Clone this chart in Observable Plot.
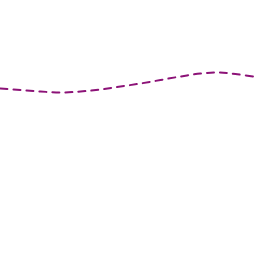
<!DOCTYPE html>
<html>
<head>
<meta charset="utf-8">
<script src="https://cdn.jsdelivr.net/npm/d3@7"></script>
<script src="https://cdn.jsdelivr.net/npm/@observablehq/plot@0.6"></script>
<style>
html, body { margin: 0; padding: 0; background: #fff; }
</style>
</head>
<body>
<div id="chart"></div>
<script>
const xs = [0, 20, 40, 60, 80, 100, 120, 140, 160, 180, 200, 218, 235, 256];
const ys = [168, 166.5, 165, 164, 165, 167, 170, 173, 176.5, 180, 183, 184, 182.5, 179.5];
const data = xs.map((x, i) => ({x, y: ys[i]}));
const chart = Plot.plot({
  width: 256,
  height: 256,
  margin: 0,
  x: {domain: [0, 256], axis: null},
  y: {domain: [0, 256], axis: null},
  marks: [
    Plot.line(data, {x: "x", y: "y", curve: "catmull-rom", stroke: "#8c1277", strokeWidth: 2, strokeDasharray: "7,6"})
  ]
});
document.getElementById("chart").appendChild(chart);
</script>
</body>
</html>
